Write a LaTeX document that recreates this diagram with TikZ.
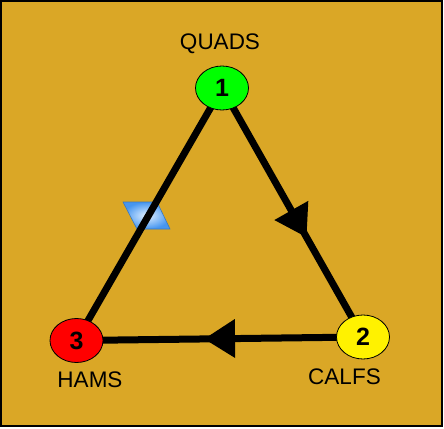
\documentclass[tikz,border=0pt]{standalone}
\usepackage{fontspec}
\setmainfont{Liberation Sans}
\usetikzlibrary{arrows.meta,decorations.markings,shapes.geometric}
\definecolor{bgcol}{RGB}{218,167,38}
\definecolor{pgram}{RGB}{70,150,240}
\definecolor{pgramin}{RGB}{225,240,255}
\tikzset{
  stage/.style={ellipse,draw=black,line width=0.8pt,minimum width=53pt,minimum height=44pt,inner sep=0pt,font=\fontsize{25}{25}\selectfont\bfseries},
  lbl/.style={anchor=base,inner sep=0pt,font=\fontsize{22.5}{22.5}\selectfont},
  edge/.style={line width=7pt,draw=black},
  midarrow/.style={postaction={decorate},decoration={markings,mark=at position #1 with {\arrow{Triangle[length=31pt,width=37pt]}}}}
}
\begin{document}
\begin{tikzpicture}[x=1pt,y=-1pt]
\useasboundingbox (0,0) rectangle (444,428);
\fill[white] (0,0) rectangle (444,428);
\fill[bgcol] (1,1) rectangle (441.5,425.5);
\draw[black,line width=2pt] (1,1) rectangle (441.5,425.5);
% parallelogram marker
\coordinate (pm) at (147,215.5);
\shade[inner color=pgramin,outer color=pgram,draw=pgram!80!black,line width=0.6pt]
  ([shift={(-24,-13.5)}]pm) -- ([shift={(10,-13.5)}]pm) -- ([shift={(23,13.5)}]pm) -- ([shift={(-10,13.5)}]pm) -- cycle;
% nodes (positions)
\coordinate (c1) at (222,88);
\coordinate (c2) at (363,337);
\coordinate (c3) at (76.5,340.5);
% connectors
\draw[edge] (c1) -- (c3);
\draw[edge,midarrow=0.6] (c1) -- (c2);
\draw[edge,midarrow=0.555] (c2) -- (c3);
% nodes
\node[stage,fill=green] (n1) at (c1) {1};
\node[stage,fill=yellow] (n2) at (c2) {2};
\node[stage,fill=red] (n3) at (c3) {3};
% labels
\node[lbl] (l1) at (220,49) {QUADS};
\node[lbl] (l2) at (344.5,384) {CALFS};
\node[lbl] (l3) at (90,387) {HAMS};
\end{tikzpicture}
\end{document}
